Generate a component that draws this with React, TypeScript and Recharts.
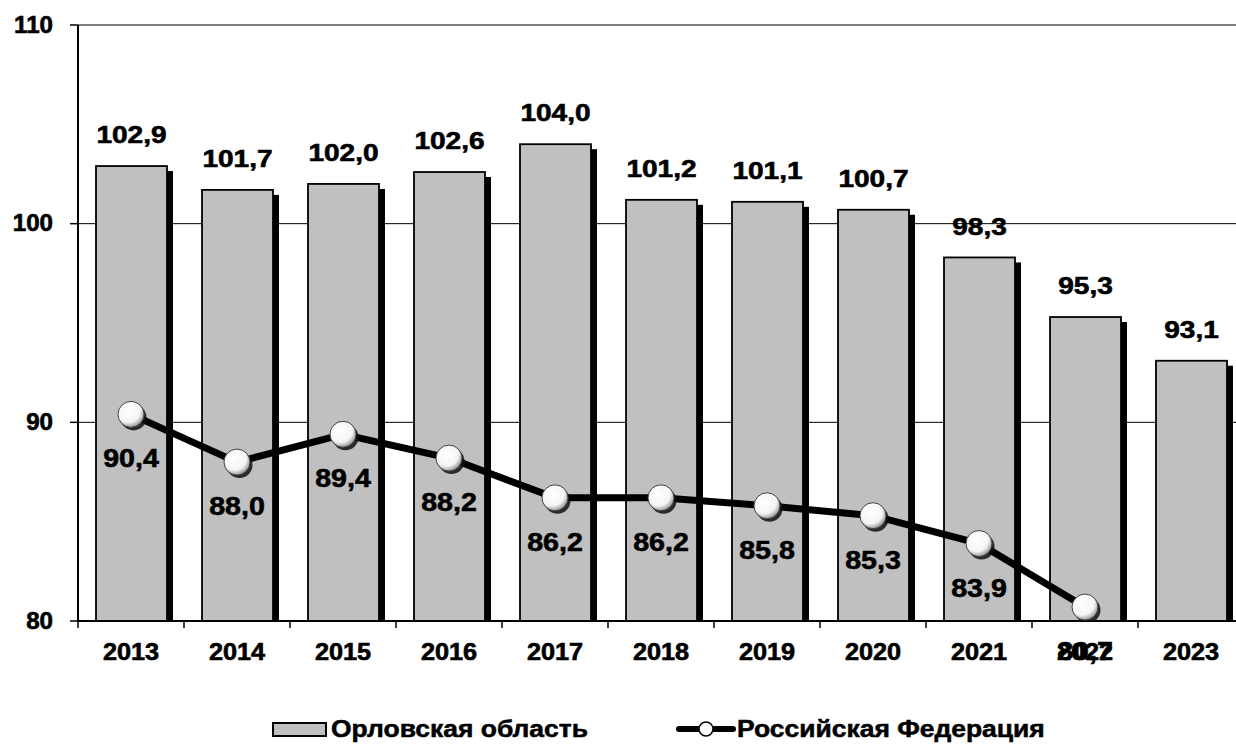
import React from 'react';
import { ComposedChart, Bar, Line, XAxis, YAxis, CartesianGrid, LabelList } from 'recharts';

const years = ['2013', '2014', '2015', '2016', '2017', '2018', '2019', '2020', '2021', '2022', '2023'];
const orelValues = [102.9, 101.7, 102.0, 102.6, 104.0, 101.2, 101.1, 100.7, 98.3, 95.3, 93.1];
const rfValues: (number | null)[] = [90.4, 88.0, 89.4, 88.2, 86.2, 86.2, 85.8, 85.3, 83.9, 80.7, null];
const yTicks = [80, 90, 100, 110];
const seriesNames = ['Орловская область', 'Российская Федерация'];

const data = years.map((year, i) => ({ year, orel: orelValues[i], rf: rfValues[i] }));

const FONT = '"Liberation Sans", Arial, sans-serif';
const fmt = (v: number) => v.toFixed(1).replace('.', ',');

const BarShape = (props: any) => {
  const { x, y, width, height } = props;
  if (height == null || height <= 0) return null;
  return (
    <g>
      <rect x={x + 6} y={y + 5} width={width} height={Math.max(height - 5, 0)} fill="#000" />
      <rect x={x} y={y} width={width} height={height} fill="#C0C0C0" stroke="#000" strokeWidth={1.8} />
    </g>
  );
};

const Dot = (props: any) => {
  const { cx, cy, index } = props;
  if (cx == null || cy == null || props.value == null) return null;
  const id = `dg${index}`;
  return (
    <g key={id}>
      <defs>
        <radialGradient id={id} cx="40%" cy="35%" r="65%">
          <stop offset="0%" stopColor="#ffffff" />
          <stop offset="70%" stopColor="#f4f4f4" />
          <stop offset="100%" stopColor="#9a9a9a" />
        </radialGradient>
      </defs>
      <circle cx={cx + 2.5} cy={cy + 3} r={13} fill="#111" opacity={0.85} />
      <circle cx={cx} cy={cy} r={13} fill={`url(#${id})`} stroke="#444" strokeWidth={1} />
    </g>
  );
};

const textProps = {
  dominantBaseline: 'central' as const,
  fontFamily: FONT,
  fontWeight: 'bold' as const,
  fill: '#000',
  stroke: '#000',
  strokeWidth: 0.6,
};

const XTick = (props: any) => {
  const { x, y, payload } = props;
  const half = (payload && payload.offset) || 53;
  return (
    <g>
      <line x1={x - half} y1={y} x2={x - half} y2={y + 7} stroke="#000" strokeWidth={1.5} />
      <text transform={`translate(${x} ${y + 31}) scale(1.1 1)`} textAnchor="middle" fontSize={23} {...textProps}>
        {payload.value}
      </text>
    </g>
  );
};

const YTick = (props: any) => {
  const { x, y, payload } = props;
  return (
    <text transform={`translate(${x} ${y}) scale(1.05 1)`} textAnchor="end" fontSize={23} {...textProps}>
      {payload.value}
    </text>
  );
};

const BarLabel = (props: any) => {
  const { x, y, width, value } = props;
  if (value == null) return null;
  return (
    <text transform={`translate(${x + width / 2} ${y - 31}) scale(1.17 1)`} textAnchor="middle" fontSize={24} {...textProps}>
      {fmt(value)}
    </text>
  );
};

const LineLabel = (props: any) => {
  const { x, y, value } = props;
  if (value == null) return null;
  return (
    <text transform={`translate(${x} ${y + 44}) scale(1.1 1)`} textAnchor="middle" fontSize={26} {...textProps}>
      {fmt(value)}
    </text>
  );
};

const legendText: React.CSSProperties = {
  position: 'absolute',
  top: 729,
  fontFamily: FONT,
  fontWeight: 'bold',
  fontSize: 23,
  lineHeight: '23px',
  whiteSpace: 'nowrap',
  transform: 'translateY(-50%) scaleX(1.15)',
  transformOrigin: 'left center',
  color: '#000',
  WebkitTextStroke: '0.5px #000',
};

export default function App() {
  return (
    <div style={{ position: 'absolute', left: 0, top: 0, width: 1236, height: 744, overflow: 'hidden', background: '#fff' }}>
      <ComposedChart
        width={1252}
        height={744}
        data={data}
        margin={{ top: 25, right: 8, left: 0, bottom: 83 }}
        barSize={71}
      >
        <CartesianGrid horizontal vertical={false} stroke="#000" strokeWidth={1} />
        <XAxis
          dataKey="year"
          height={40}
          tickLine={false}
          tickSize={0}
          tickMargin={0}
          axisLine={{ stroke: '#000', strokeWidth: 2 }}
          tick={<XTick />}
          interval={0}
        />
        <YAxis
          width={78}
          domain={[80, 110]}
          ticks={yTicks}
          allowDataOverflow
          tickSize={8}
          tickMargin={17}
          tickLine={{ stroke: '#000', strokeWidth: 1.5 }}
          axisLine={{ stroke: '#000', strokeWidth: 2 }}
          tick={<YTick />}
        />
        <Bar dataKey="orel" name={seriesNames[0]} shape={<BarShape />} isAnimationActive={false}>
          <LabelList dataKey="orel" content={<BarLabel />} />
        </Bar>
        <Line
          dataKey="rf"
          name={seriesNames[1]}
          type="linear"
          stroke="#000"
          strokeWidth={7}
          dot={<Dot />}
          activeDot={false}
          isAnimationActive={false}
        >
          <LabelList dataKey="rf" content={<LineLabel />} />
        </Line>
      </ComposedChart>
      <div style={{ position: 'absolute', left: 0, top: 0, width: 1236, height: 744, pointerEvents: 'none' }}>
        <div
          style={{
            position: 'absolute',
            left: 272,
            top: 722,
            width: 55,
            height: 15,
            background: '#C0C0C0',
            border: '2px solid #000',
            boxSizing: 'border-box',
          }}
        />
        <div style={{ ...legendText, left: 331 }}>{seriesNames[0]}</div>
        <svg style={{ position: 'absolute', left: 675, top: 719 }} width={62} height={20}>
          <line x1={4} y1={10} x2={58} y2={10} stroke="#000" strokeWidth={6} strokeLinecap="round" />
          <circle cx={31} cy={10} r={7} fill="#fff" stroke="#000" strokeWidth={1.5} />
        </svg>
        <div style={{ ...legendText, left: 737 }}>{seriesNames[1]}</div>
      </div>
    </div>
  );
}
